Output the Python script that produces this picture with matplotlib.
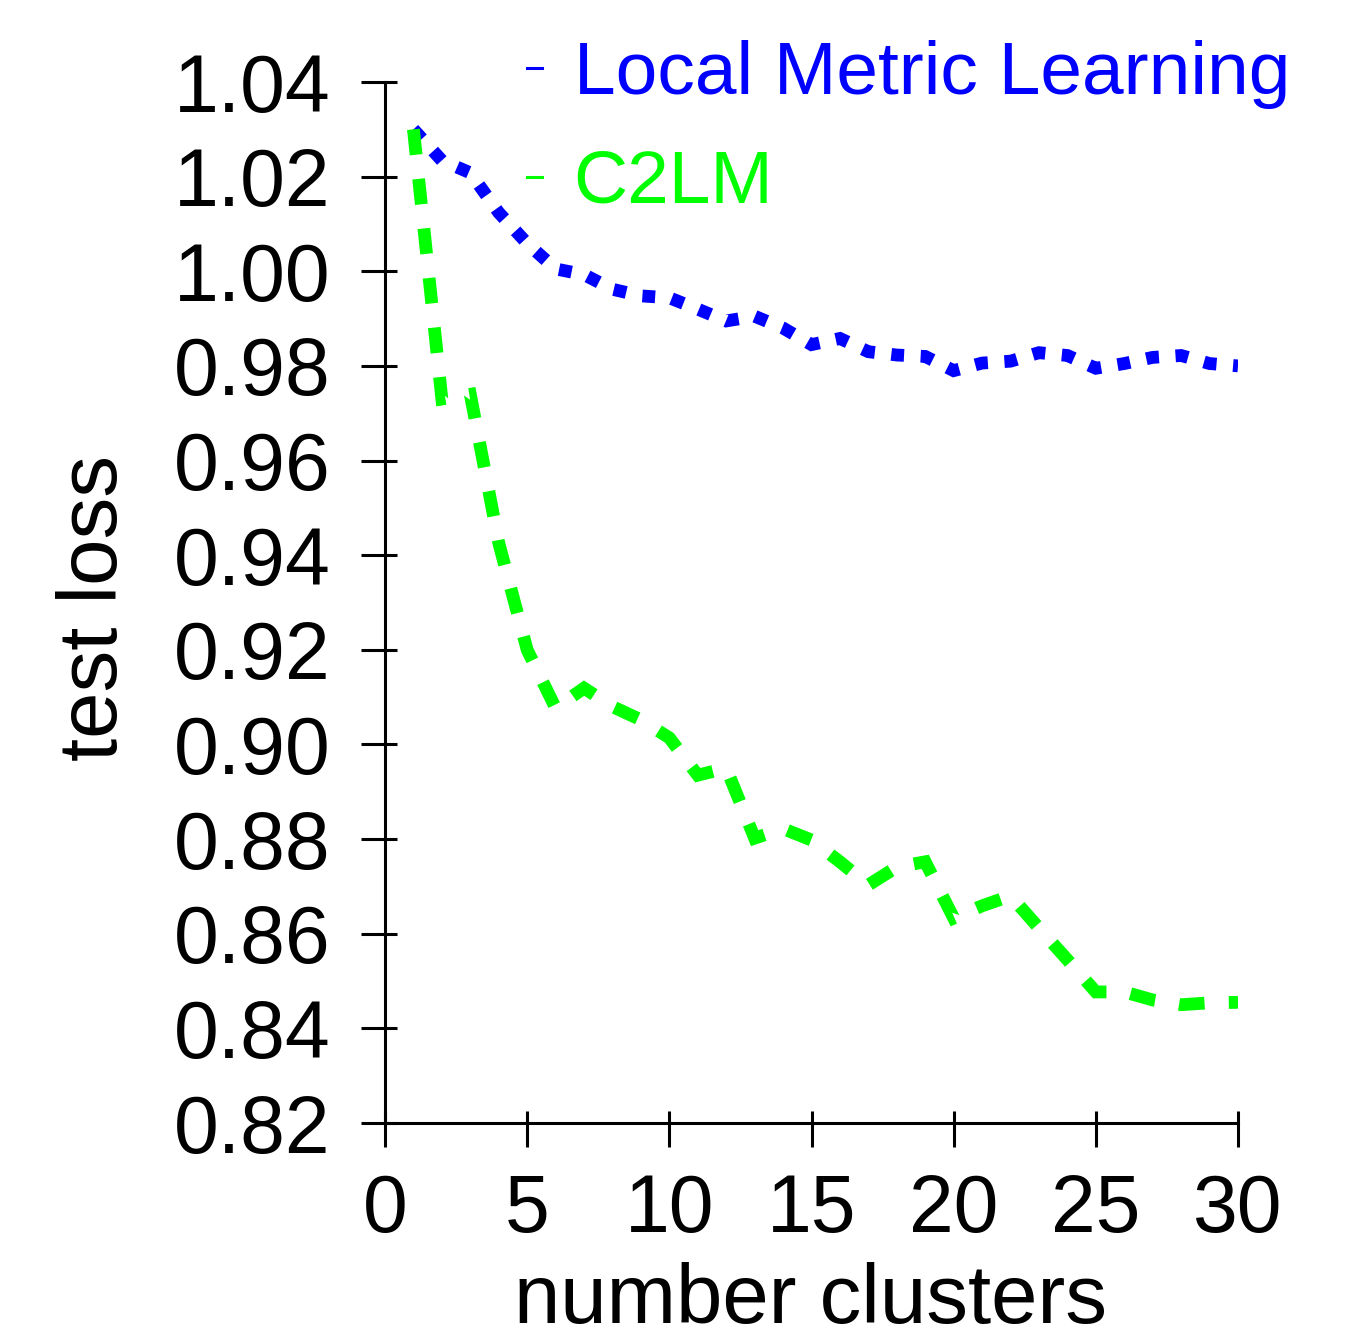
import numpy as np
import matplotlib
matplotlib.use('Agg')
import matplotlib.pyplot as plt

plt.rcParams['font.family'] = ['Liberation Sans', 'DejaVu Sans']

# data
clusters = [1, 2, 3, 4, 5, 6, 7, 8, 9, 10, 11, 12, 13, 14, 15,
            16, 17, 18, 19, 20, 21, 22, 23, 24, 25, 26, 27, 28, 29, 30]
lml_loss = [1.0300, 1.0234, 1.0208, 1.0124, 1.0059, 1.0005, 0.9993, 0.9962, 0.9948, 0.9944,
            0.9920, 0.9895, 0.9905, 0.9880, 0.9845, 0.9858, 0.9830, 0.9823, 0.9820, 0.9790,
            0.9806, 0.9810, 0.9828, 0.9822, 0.9795, 0.9805, 0.9818, 0.9822, 0.9805, 0.9800]
c2lm_loss = [1.0300, 0.9730, 0.9740, 0.9426, 0.9200, 0.9077, 0.9119, 0.9080, 0.9052, 0.9014,
             0.8935, 0.8950, 0.8802, 0.8822, 0.8798, 0.8752, 0.8703, 0.8741, 0.8752, 0.8633,
             0.8659, 0.8680, 0.8612, 0.8545, 0.8477, 0.8477, 0.8460, 0.8450, 0.8454, 0.8455]

xticks = [0, 5, 10, 15, 20, 25, 30]
yticks = [0.82, 0.84, 0.86, 0.88, 0.90, 0.92, 0.94, 0.96, 0.98, 1.00, 1.02, 1.04]

W, H = 1348, 1339
fig = plt.figure(figsize=(W / 100, H / 100), dpi=100)
ax = fig.add_axes([385 / W, 1 - 1123 / H, 853 / W, 1041 / H])

l1, = ax.plot(clusters, lml_loss, color='#0000ff', lw=9.2, linestyle=(0, (1, 1.3)),
              dash_capstyle='butt', dash_joinstyle='miter', label='Local Metric Learning')
l2, = ax.plot(clusters, c2lm_loss, color='#00ff00', lw=9.2, linestyle=(0, (2, 1.9)),
              dash_capstyle='butt', dash_joinstyle='miter', label='C2LM')

ax.set_xlim(0, 30)
ax.set_ylim(0.82, 1.04)
ax.set_xticks(xticks)
ax.set_xticklabels([str(t) for t in xticks])
ax.set_yticks(yticks)
ax.set_yticklabels(['%.2f' % t for t in yticks])
# inward part of the ticks
ax.set_xticks(xticks, minor=True)
ax.set_yticks(yticks, minor=True)
ax.xaxis.remove_overlapping_locs = False
ax.yaxis.remove_overlapping_locs = False

for s in ['top', 'right']:
    ax.spines[s].set_visible(False)
for s in ['left', 'bottom']:
    ax.spines[s].set_linewidth(2.2)

ax.tick_params(which='major', direction='out', length=17, width=2.2, labelsize=58)
ax.tick_params(which='minor', direction='in', length=8.5, width=2.2,
               labelbottom=False, labelleft=False)
ax.tick_params(axis='y', which='major', pad=22)
ax.tick_params(axis='x', which='major', pad=19)

fig.text(95 / W, 1 - 608 / H, 'test loss', rotation=90, ha='center', va='center', fontsize=60)
fig.text(811 / W, 1 - 1323 / H, 'number clusters', ha='center', va='baseline', fontsize=60)

leg = ax.legend(loc='upper left', bbox_to_anchor=(527 / W, 1 - 40 / H),
                bbox_transform=fig.transFigure, frameon=False, fontsize=54,
                handlelength=0.2, handletextpad=0.42, labelspacing=0.53,
                borderpad=0, borderaxespad=0)
for txt, ln in zip(leg.get_texts(), leg.get_lines()):
    txt.set_color(ln.get_color())
    ln.set_linestyle('-')
    ln.set_linewidth(2.2)

fig.savefig('out.png', dpi=100)
